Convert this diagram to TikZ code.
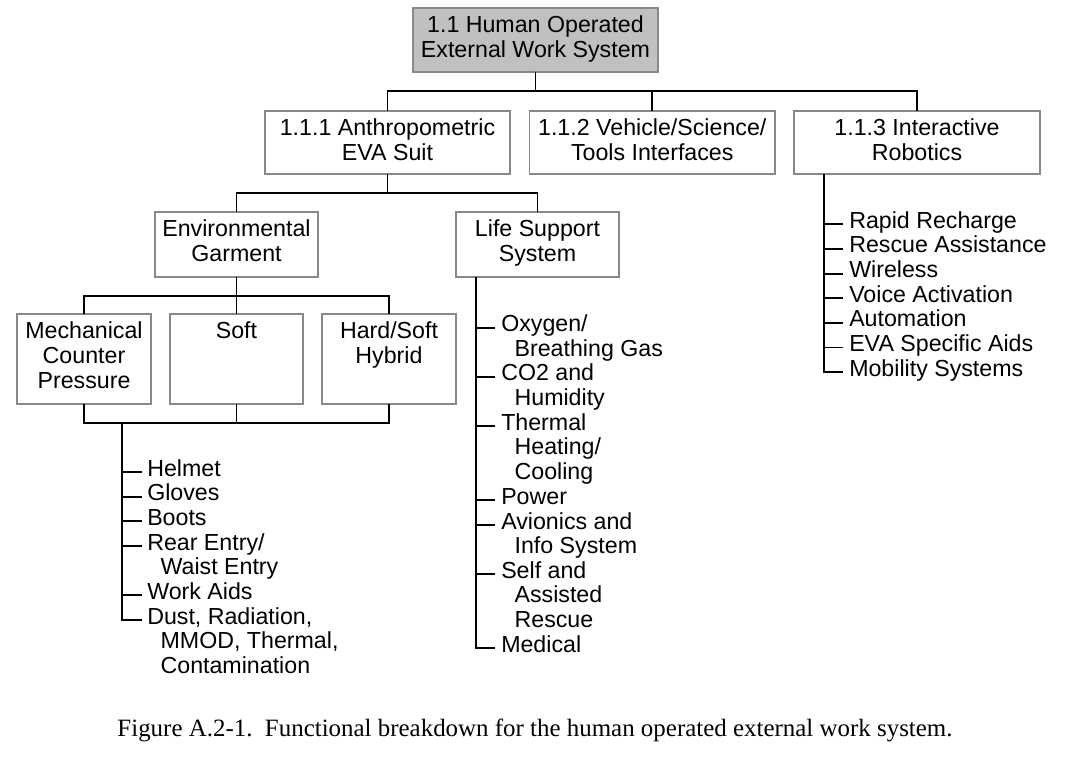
\documentclass[tikz,border=0pt]{standalone}
\usepackage{fontspec}
\setmainfont{Liberation Sans}
\newfontfamily\capfont{Liberation Serif}
\newdimen\pxu \pxu=0.75pt
\newcommand{\bxt}[3]{\begin{minipage}[t][#2\pxu][t]{#1\pxu}\centering\fontsize{17.4}{18.6}\selectfont\rule{0pt}{18.4pt}#3\par\end{minipage}}
\newcommand{\itm}[1]{\begin{tabular}[t]{@{}l@{}}#1\end{tabular}}
\definecolor{bordergray}{RGB}{136,136,136}
\definecolor{topfill}{RGB}{192,192,192}
\tikzset{
  bx/.style={draw=bordergray, line width=1.2pt, inner sep=0pt, outer sep=0pt, anchor=north west, fill=white},
  conn/.style={draw=black, line width=1.4pt},
  item/.style={anchor=base west, inner sep=0pt, font=\fontsize{17.4}{18.5}\selectfont},
}
\begin{document}
\begin{tikzpicture}[x=0.75pt,y=-0.75pt]
\useasboundingbox (0,0) rectangle (1072,777);
% boxes
\node[bx, fill=topfill] (top) at (413,8) {\bxt{245}{64}{1.1 Human Operated\\External Work System}};
\node[bx] (b1) at (265,111) {\bxt{245}{63}{1.1.1 Anthropometric\\EVA Suit}};
\node[bx] (b2) at (529.5,111) {\bxt{245.5}{63}{1.1.2 Vehicle/Science/\\Tools Interfaces}};
\node[bx] (b3) at (794,111) {\bxt{246}{63}{1.1.3 Interactive\\Robotics}};
\node[bx] (eg) at (155,212) {\bxt{163}{65}{Environmental\\Garment}};
\node[bx] (ls) at (456,212) {\bxt{163}{65}{Life Support\\System}};
\node[bx] (mech) at (17,314) {\bxt{134}{90}{Mechanical\\Counter\\Pressure}};
\node[bx] (soft) at (170,314) {\bxt{133}{90}{Soft}};
\node[bx] (hard) at (322,314) {\bxt{134}{90}{Hard/Soft\\Hybrid}};
% bus coordinates
\coordinate (bus1) at (0,91);
\coordinate (bus2) at (0,193);
\coordinate (bus3) at (0,296);
\coordinate (bus4) at (0,423);
\coordinate (l1) at (122,423);
% tree connectors
\draw[conn] (top.south) -- (top.south |- bus1);
\draw[conn] (b1.north) |- (b3.north |- bus1) -- (b3.north);
\draw[conn] (b2.north) -- (b2.north |- bus1);
\draw[conn] (b1.south) -- (b1.south |- bus2);
\draw[conn] (eg.north) |- (ls.north |- bus2) -- (ls.north);
\draw[conn] (eg.south) -- (soft.north);
\draw[conn] (mech.north) |- (hard.north |- bus3) -- (hard.north);
\draw[conn] (mech.south) |- (hard.south |- bus4) -- (hard.south);
\draw[conn] (soft.south) -- (soft.south |- bus4);
% garment list
\node[item] (helmet) at (147,476) {\itm{Helmet}};
\node[item] (gloves) at (147,500.7) {\itm{Gloves}};
\node[item] (boots) at (147,525.3) {\itm{Boots}};
\node[item] (rear) at (147,550) {\itm{Rear Entry/\\\hspace*{10pt}Waist Entry}};
\node[item] (work) at (147,599.3) {\itm{Work Aids}};
\node[item] (dust) at (147,624) {\itm{Dust, Radiation,\\\hspace*{10pt}MMOD, Thermal,\\\hspace*{10pt}Contamination}};
\draw[conn] (l1) |- ([shift={(-5,-4)}]dust.base west);
\foreach \n in {helmet,gloves,boots,rear,work}
  \draw[conn] ([shift={(-5,-4)}]\n.base west) -- ++(-20,0);
% life support list
\node[item] (oxy) at (501,331.7) {\itm{Oxygen/\\\hspace*{10pt}Breathing Gas}};
\node[item] (co2) at (501,381) {\itm{CO2 and\\\hspace*{10pt}Humidity}};
\node[item] (therm) at (501,430.3) {\itm{Thermal\\\hspace*{10pt}Heating/\\\hspace*{10pt}Cooling}};
\node[item] (power) at (501,504.3) {\itm{Power}};
\node[item] (avion) at (501,529) {\itm{Avionics and\\\hspace*{10pt}Info System}};
\node[item] (self) at (501,578.3) {\itm{Self and\\\hspace*{10pt}Assisted\\\hspace*{10pt}Rescue}};
\node[item] (med) at (501,652.3) {\itm{Medical}};
\draw[conn] ([shift={(20,0)}]ls.south west) |- ([shift={(-6,-4)}]med.base west);
\foreach \n in {oxy,co2,therm,power,avion,self}
  \draw[conn] ([shift={(-6,-4)}]\n.base west) -- ++(-19,0);
% robotics list
\node[item] (rapid) at (849,228.3) {\itm{Rapid Recharge}};
\node[item] (resc) at (849,252.9) {\itm{Rescue Assistance}};
\node[item] (wire) at (849,277.6) {\itm{Wireless}};
\node[item] (voice) at (849,302.2) {\itm{Voice Activation}};
\node[item] (auto) at (849,326.9) {\itm{Automation}};
\node[item] (evaaids) at (849,351.5) {\itm{EVA Specific Aids}};
\node[item] (mob) at (849,376.2) {\itm{Mobility Systems}};
\draw[conn] ([shift={(30,0)}]b3.south west) |- ([shift={(-6,-4)}]mob.base west);
\foreach \n in {rapid,resc,wire,voice,auto,evaaids}
  \draw[conn] ([shift={(-6,-4)}]\n.base west) -- ++(-19,0);
% caption
\node[anchor=base, inner sep=0pt, font=\capfont\fontsize{18.7}{20}\selectfont] (cap) at (535,736.7) {Figure A.2-1.\ \ Functional breakdown for the human operated external work system.};
\end{tikzpicture}
\end{document}
